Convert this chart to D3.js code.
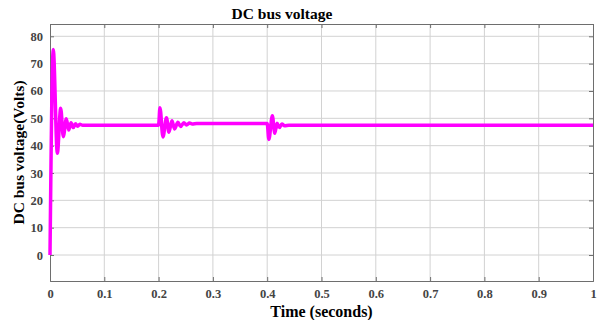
<!DOCTYPE html>
<html>
<head>
<meta charset="utf-8">
<script src="https://cdn.jsdelivr.net/npm/d3@7"></script>
<style>
  body { margin: 0; background: #fff; }
  svg { display: block; }
  text { font-family: 'Liberation Serif', 'Times New Roman', serif; font-weight: bold; }
</style>
</head>
<body>
<svg id="chart"></svg>
<script>
// time (s) and DC bus voltage (V) at its turning points
var times = [0, 0.006, 0.0135, 0.0197, 0.0245, 0.030, 0.0345, 0.0387, 0.043, 0.047, 0.051, 0.055, 0.06,
  0.2, 0.2025, 0.208, 0.2145, 0.219, 0.2245, 0.2295, 0.2355, 0.2405, 0.2465, 0.2515, 0.257, 0.262, 0.27,
  0.4, 0.403, 0.4095, 0.414, 0.418, 0.4225, 0.427, 0.432, 0.44, 1.0]
var volts = [0, 75.2, 37.2, 53.7, 43.3, 49.8, 45.7, 48.4, 46.6, 48.0, 47.1, 47.8, 47.5,
  47.5, 53.9, 43.2, 50.2, 44.9, 49.1, 46.1, 48.6, 47.0, 48.4, 47.6, 48.3, 47.9, 48.1,
  48.1, 42.3, 50.9, 44.5, 48.2, 46.6, 47.9, 47.3, 47.5, 47.5]

var xTicks = [0, 0.1, 0.2, 0.3, 0.4, 0.5, 0.6, 0.7, 0.8, 0.9, 1]
var yTicks = [0, 10, 20, 30, 40, 50, 60, 70, 80]

;(function (d3) {
  var w = 597
  var h = 320
  var m = {top: 24, right: 4, bottom: 39, left: 50}

  var svg = d3.select('#chart').attr('width', w).attr('height', h)

  var x = d3.scaleLinear().domain([0, 1]).range([m.left, w - m.right])
  var y = d3.scaleLinear().domain([-9.5, 84.5]).range([h - m.bottom, m.top])

  // grid
  svg.append('g').selectAll('line')
      .data(xTicks.slice(1, -1))
      .enter().append('line')
      .attr('x1', d => x(d)).attr('x2', d => x(d))
      .attr('y1', y.range()[0]).attr('y2', y.range()[1])
      .attr('stroke', '#d2d2d2')
  svg.append('g').selectAll('line')
      .data(yTicks)
      .enter().append('line')
      .attr('x1', x.range()[0]).attr('x2', x.range()[1])
      .attr('y1', d => y(d)).attr('y2', d => y(d))
      .attr('stroke', '#d2d2d2')

  // axes with inward ticks
  var axCol = '#6e6e6e'
  var bottom = svg.append('g')
      .attr('transform', `translate(0,${y.range()[0]})`)
      .call(d3.axisBottom(x).tickValues(xTicks).tickSize(-4).tickPadding(8).tickFormat(d3.format('')))
  var top = svg.append('g')
      .attr('transform', `translate(0,${m.top})`)
      .call(d3.axisTop(x).tickValues(xTicks).tickSize(-4).tickFormat(''))
  var left = svg.append('g')
      .attr('transform', `translate(${m.left},0)`)
      .call(d3.axisLeft(y).tickValues(yTicks).tickSize(-4).tickPadding(7))
  var right = svg.append('g')
      .attr('transform', `translate(${w - m.right},0)`)
      .call(d3.axisRight(y).tickValues(yTicks).tickSize(-4).tickFormat(''))

  ;[bottom, top, left, right].forEach(g => {
    g.select('.domain').attr('stroke', axCol)
    g.selectAll('.tick line').attr('stroke', axCol)
    g.selectAll('text')
        .attr('fill', '#444')
        .style('font-size', '12.5px')
        .style('font-family', "'Liberation Serif', serif")
        .style('font-weight', 'bold')
  })

  // trace
  var line = d3.line()
      .x((d, i) => x(times[i]))
      .y(d => y(d))
      .curve(d3.curveMonotoneX)

  svg.append('path')
      .datum(volts)
      .attr('d', line)
      .attr('fill', 'none')
      .attr('stroke', '#ff00ff')
      .attr('stroke-width', 3.5)
      .attr('stroke-linejoin', 'round')

  // labels
  svg.append('text')
      .attr('x', 282).attr('y', 19)
      .attr('text-anchor', 'middle')
      .style('font-size', '15.5px')
      .text('DC bus voltage')

  svg.append('text')
      .attr('x', (x.range()[0] + x.range()[1]) / 2).attr('y', 317)
      .attr('text-anchor', 'middle')
      .style('font-size', '16px')
      .text('Time (seconds)')

  svg.append('text')
      .attr('transform', `translate(24,${(y.range()[0] + y.range()[1]) / 2}) rotate(-90)`)
      .attr('text-anchor', 'middle')
      .style('font-size', '15.5px')
      .text('DC bus voltage(Volts)')
})(window.d3)
</script>
</body>
</html>
